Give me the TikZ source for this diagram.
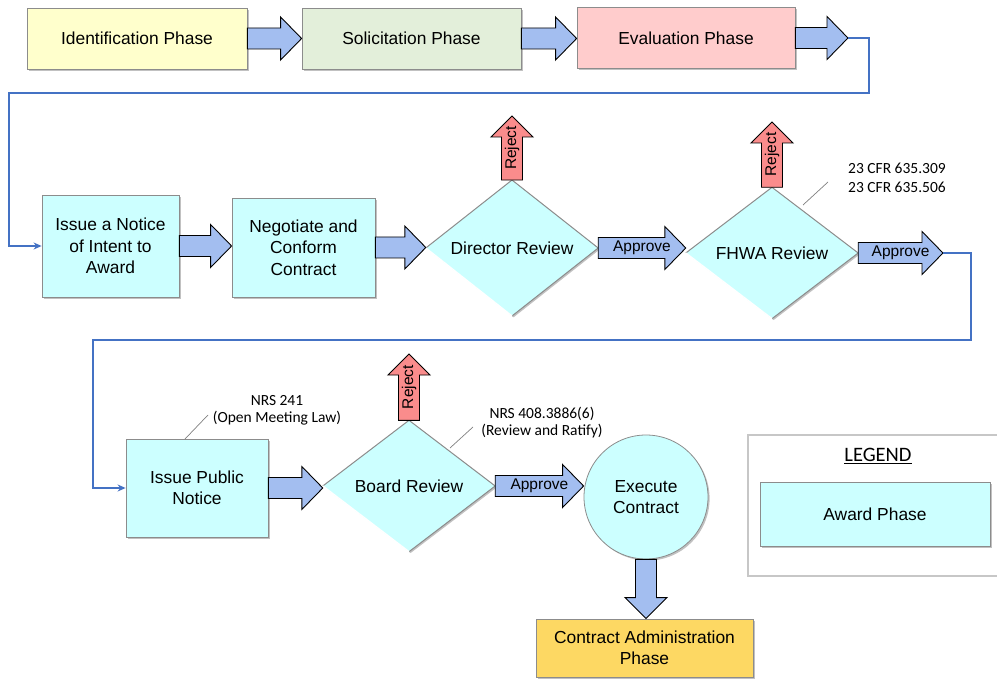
\documentclass[tikz,border=0pt]{standalone}
\usepackage{fontspec}
\setmainfont{Liberation Sans}
\newfontfamily\calib{Carlito}
\usetikzlibrary{shapes.geometric,shadows,calc,arrows.meta}

\definecolor{idfill}{HTML}{FFFFCC}
\definecolor{solfill}{HTML}{E3EFDA}
\definecolor{evalfill}{HTML}{FFCCCC}
\definecolor{awardfill}{HTML}{CCFFFF}
\definecolor{adminfill}{HTML}{FDD863}
\definecolor{arrowblue}{HTML}{A3BEF0}
\definecolor{rejectred}{HTML}{FA8C8C}
\definecolor{flowblue}{HTML}{4472C4}
\definecolor{edgegray}{HTML}{8C8C8C}
\definecolor{leadgray}{HTML}{808080}

\newcommand\boxfont{\fontsize{17.4}{21.5}\selectfont}
\newcommand\tagfont{\fontsize{15.5}{18}\selectfont}
\newcommand\notefont{\calib\fontsize{15.5}{17}\selectfont}

\tikzset{
  softshadow/.style={drop shadow={shadow xshift=1.6pt, shadow yshift=-1.6pt, fill=black!70, opacity=0.35}},
  box/.style={rectangle, draw=edgegray, line width=0.8pt, font=\boxfont, align=center,
    text=black, inner sep=0pt, softshadow},
  decision/.style={diamond, fill=awardfill, minimum width=172pt, minimum height=131pt,
    inner sep=0pt, font=\boxfont, text=black, softshadow},
  diaedge/.style={draw=edgegray, line width=1pt, line join=miter},
  diahl/.style={draw=white, line width=1.4pt},
  blockarrow/.style={draw=black, line width=0.9pt, fill=arrowblue, line join=miter},
  tag/.style={font=\tagfont, inner sep=0pt, text=black},
  note/.style={font=\notefont, inner sep=0pt, text=black, align=center},
  leader/.style={draw=leadgray, line width=0.7pt},
  flowline/.style={draw=flowblue, line width=1.3pt, -{Stealth[length=8pt,width=7pt]}},
  % block arrow pointing right, from start to target x
  rblock/.style={to path={let \p1=(\tikztostart), \p2=(\tikztotarget) in
    (\x1,{\y1+10.5pt}) -- ({\x2-21pt},{\y1+10.5pt}) -- ({\x2-21pt},{\y1+21.5pt})
    -- (\x2,\y1) -- ({\x2-21pt},{\y1-21.5pt}) -- ({\x2-21pt},{\y1-10.5pt})
    -- (\x1,{\y1-10.5pt}) -- cycle}},
  % block arrow pointing up
  ublock/.style={to path={let \p1=(\tikztostart), \p2=(\tikztotarget) in
    ({\x1-10.5pt},\y1) -- ({\x1-10.5pt},{\y2-21pt}) -- ({\x1-21pt},{\y2-21pt})
    -- (\x1,\y2) -- ({\x1+21pt},{\y2-21pt}) -- ({\x1+10.5pt},{\y2-21pt})
    -- ({\x1+10.5pt},\y1) -- cycle}},
  % block arrow pointing down
  dblock/.style={to path={let \p1=(\tikztostart), \p2=(\tikztotarget) in
    ({\x1-10.5pt},\y1) -- ({\x1-10.5pt},{\y2+21pt}) -- ({\x1-21pt},{\y2+21pt})
    -- (\x1,\y2) -- ({\x1+21pt},{\y2+21pt}) -- ({\x1+10.5pt},{\y2+21pt})
    -- ({\x1+10.5pt},\y1) -- cycle}},
}

\begin{document}
\begin{tikzpicture}[x=1pt,y=-1pt]
\useasboundingbox (0,0) rectangle (997,679);

% ---------- earlier phases ----------
\node[box, fill=idfill, minimum width=220pt, minimum height=61pt] (ident) at (137,38.5) {Identification Phase};
\node[box, fill=solfill, minimum width=219pt, minimum height=61pt] (solic) at (411.5,38.5) {Solicitation Phase};
\node[box, fill=evalfill, minimum width=218pt, minimum height=61pt] (evalph) at (686,38) {Evaluation Phase};
\coordinate (evalout) at (848,38);

% ---------- award phase, first row ----------
\node[box, fill=awardfill, minimum width=137pt, minimum height=102pt] (notice) at (110.5,246) {Issue a Notice\\of Intent to\\Award};
\node[box, fill=awardfill, minimum width=143pt, minimum height=99pt] (negot) at (303.5,247.5) {Negotiate and\\Conform\\Contract};
\node[decision] (director) at (512,248) {Director Review};
\node[decision] (fhwa) at (772,253) {FHWA Review};
\coordinate (fhwaout) at (943,253);

% ---------- award phase, second row ----------
\node[box, fill=awardfill, minimum width=142pt, minimum height=98pt] (pubnote) at (197,488) {Issue Public\\Notice};
\node[decision] (board) at (409,486) {Board Review};
\node[circle, fill=awardfill, draw=edgegray, line width=0.8pt, minimum size=124pt, inner sep=0pt,
      font=\boxfont, align=center, softshadow] (exec) at (646,497) {Execute\\Contract};
\node[box, fill=adminfill, draw=black!45, minimum width=217pt, minimum height=58pt] (admin) at (644.5,648) {Contract Administration\\Phase};

% diamond outlines with a light lower-left edge
\foreach \d in {director,fhwa,board}{
  \draw[diaedge] (\d.west) -- (\d.north) -- (\d.east) -- (\d.south);
  \draw[diahl] (\d.south) -- (\d.west);
}

% ---------- block arrows ----------
\draw[blockarrow] (ident.east) to[rblock] (solic.west);
\draw[blockarrow] (solic.east) to[rblock] (evalph.west);
\draw[blockarrow] (evalph.east) to[rblock] (evalout);

\draw[blockarrow] (notice.east) to[rblock] (negot.west);
\draw[blockarrow] (negot.east) to[rblock] (director.west);
\draw[blockarrow] (director.east) to[rblock] (fhwa.west);
\node[tag] (approve1) at ({$(director.east)!.5!(fhwa.west)$} |- director.east) {Approve};
\draw[blockarrow] (fhwa.east) to[rblock] (fhwaout);
\node[tag] (approve2) at ($(fhwa.east)!.5!(fhwaout)$) {Approve};

\draw[blockarrow] (pubnote.east) to[rblock] (board.west);
\draw[blockarrow] (board.east) to[rblock] (exec.west);
\node[tag] (approve3) at ({$(board.east)!.5!(exec.west)$} |- board.east) {Approve};
\draw[blockarrow] (exec.south) to[dblock] (admin.north);

% reject exits
\coordinate (rejdir) at (512,116);
\coordinate (rejfhwa) at (772,122);
\coordinate (rejboard) at (409,354);
\draw[blockarrow, fill=rejectred] (director.north) to[ublock] (rejdir);
\draw[blockarrow, fill=rejectred] (fhwa.north) to[ublock] (rejfhwa);
\draw[blockarrow, fill=rejectred] (board.north) to[ublock] (rejboard);
\node[tag, rotate=90] (rej1) at ($(director.north)!.5!(rejdir)$) {Reject};
\node[tag, rotate=90] (rej2) at ($(fhwa.north)!.5!(rejfhwa)$) {Reject};
\node[tag, rotate=90] (rej3) at ($(board.north)!.5!(rejboard)$) {Reject};

% ---------- flow lines between rows ----------
\coordinate (turn1) at (869,93);
\coordinate (turn2) at (9,93);
\draw[flowline] (evalout) -| (turn1) -- (turn2) |- (notice.west);
\coordinate (turn3) at (971,340);
\coordinate (turn4) at (93,340);
\draw[flowline] (fhwaout) -| (turn3) -- (turn4) |- (pubnote.west);

% ---------- references ----------
\node[note] (cfr) at (897,178) {23 CFR 635.309\\[2pt]23 CFR 635.506};
\coordinate (cfrA) at (803,205);
\coordinate (cfrB) at (828,182);
\draw[leader] (cfrA) -- (cfrB);

\node[note] (nrs241) at (277,410) {NRS 241\\(Open Meeting Law)};
\coordinate (nrsA) at (185,439);
\coordinate (nrsB) at (208,415);
\draw[leader] (nrsA) -- (nrsB);

\node[note] (nrs408) at (542,423) {NRS 408.3886(6)\\(Review and Ratify)};
\coordinate (nrsC) at (450,448);
\coordinate (nrsD) at (473,427);
\draw[leader] (nrsC) -- (nrsD);

% ---------- legend ----------
\node[draw=black!22, line width=1.2pt, minimum width=254pt, minimum height=141pt, inner sep=0pt] (legend) at (875,505.5) {};
\node[font=\calib\fontsize{20.5}{24}\selectfont, inner sep=0pt] (legendtitle) at (878,456) {\underline{LEGEND}};
\node[box, fill=awardfill, minimum width=230pt, minimum height=64pt] (legaward) at (875,514) {Award Phase};
\end{tikzpicture}
\end{document}
